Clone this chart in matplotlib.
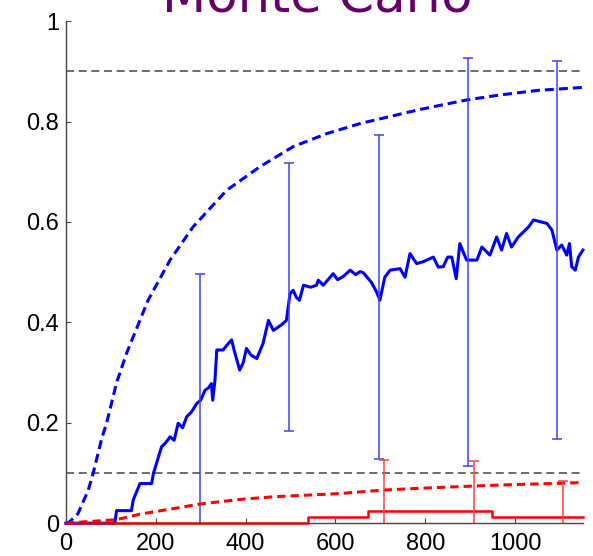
import numpy as np
import matplotlib
matplotlib.use("Agg")
import matplotlib.pyplot as plt

plt.rcParams['font.family'] = ['Liberation Sans', 'DejaVu Sans']
plt.rcParams['lines.scale_dashes'] = False

# noisy running estimate (solid blue)
est_x = [0, 105, 109, 113, 146, 150, 165, 191, 195, 213, 222, 232, 241, 250, 260, 269, 280, 291,
         300, 310, 318, 324, 327, 332, 336, 350, 359, 369, 376, 387, 395, 402, 412, 425, 439, 451,
         462, 480, 491, 499, 506, 513, 520, 529, 545, 558, 562, 573, 595, 605, 617, 633, 645, 655,
         662, 680, 692, 699, 710, 722, 744, 755, 766, 781, 796, 818, 829, 840, 850, 859, 869, 877,
         892, 915, 926, 944, 959, 970, 981, 992, 1007, 1030, 1041, 1071, 1082, 1093, 1104, 1115,
         1121, 1126, 1134, 1141, 1151]
est_y = [0, 0, 0.0, 0.025, 0.025, 0.046, 0.079, 0.079, 0.099, 0.152, 0.16, 0.172, 0.165, 0.199,
         0.19, 0.212, 0.222, 0.238, 0.245, 0.265, 0.27, 0.278, 0.245, 0.285, 0.345, 0.345, 0.355,
         0.365, 0.34, 0.305, 0.32, 0.348, 0.335, 0.328, 0.358, 0.404, 0.384, 0.395, 0.404, 0.457,
         0.464, 0.45, 0.444, 0.474, 0.47, 0.474, 0.484, 0.474, 0.497, 0.485, 0.491, 0.504, 0.495,
         0.501, 0.499, 0.48, 0.46, 0.444, 0.49, 0.504, 0.507, 0.49, 0.537, 0.517, 0.521, 0.530,
         0.51, 0.511, 0.53, 0.530, 0.487, 0.557, 0.524, 0.524, 0.550, 0.534, 0.570, 0.544, 0.577,
         0.550, 0.570, 0.590, 0.604, 0.597, 0.584, 0.544, 0.554, 0.534, 0.557, 0.511, 0.504,
         0.530, 0.544]

# expected curve (dashed blue)
exp_x = [0, 5, 27, 50, 61, 80, 91, 113, 135, 183, 232, 283, 358, 432, 506, 581, 655, 788, 892,
         967, 1050, 1151]
exp_y = [0, 0.0, 0.019, 0.066, 0.10, 0.169, 0.20, 0.28, 0.338, 0.444, 0.524, 0.590, 0.663, 0.710,
         0.750, 0.776, 0.796, 0.824, 0.843, 0.853, 0.862, 0.868]

# red estimate (steps) and red expected curve
red_x = [0, 540, 673, 948, 1151]
red_y = [0, 0.0126, 0.0246, 0.0126, 0.0126]
red_exp_x = [0, 16, 113, 165, 239, 298, 365, 395, 470, 540, 610, 707, 800, 907, 1000, 1080, 1151]
red_exp_y = [0, 0.001, 0.007, 0.018, 0.029, 0.038, 0.045, 0.048, 0.053, 0.056, 0.059, 0.066,
             0.070, 0.074, 0.077, 0.079, 0.081]

# error bars
bar_x = [298, 497, 697, 895, 1093]
bar_lo = [-0.01, 0.184, 0.128, 0.113, 0.167]
bar_hi = [0.497, 0.717, 0.773, 0.927, 0.920]
red_bar_x = [709, 908, 1106]
red_bar_mid = [0.025, 0.025, 0.013]
red_bar_err = [0.101, 0.099, 0.071]

levels = [0.1, 0.9]

fig = plt.figure(figsize=(5.93, 5.56), dpi=100)
ax = fig.add_axes([0.111, 0.059, 0.872, 0.903])

for lv in levels:
    ax.axhline(lv, color='#444444', lw=1.1, dashes=(5.8, 3.3))

ax.plot(exp_x, exp_y, color='#0000ff', lw=2.2, dashes=(6.5, 3.6), clip_on=False)
ax.plot(est_x, est_y, color='#0000ff', lw=2.2, clip_on=False)

lo = np.array(bar_lo)
hi = np.array(bar_hi)
ax.errorbar(bar_x, (lo + hi) / 2, yerr=(hi - lo) / 2, fmt='none', ecolor='#4040ff',
            elinewidth=1.1, capsize=3.6, capthick=1.1)

ax.plot(red_exp_x, red_exp_y, color='#ff0000', lw=2.2, dashes=(6, 3.6), clip_on=False)
ax.plot(red_x, red_y, color='#ff0000', lw=1.8, drawstyle='steps-post', clip_on=False)
ax.errorbar(red_bar_x, red_bar_mid, yerr=red_bar_err, fmt='none', ecolor='#ff4040',
            elinewidth=1.1, capsize=3.6, capthick=1.1)

ax.set_xlim(0, 1151)
ax.set_ylim(0, 1)
ax.set_xticks([0, 200, 400, 600, 800, 1000])
ax.set_yticks([0, 0.2, 0.4, 0.6, 0.8, 1])
ax.set_yticklabels(['0', '0.2', '0.4', '0.6', '0.8', '1'])
ax.tick_params(direction='in', length=3.6, width=0.8, color='#444444', labelsize=17, pad=5)
ax.tick_params(axis='x', pad=7)
for s in ['top', 'right']:
    ax.spines[s].set_visible(False)
for s in ['left', 'bottom']:
    ax.spines[s].set_color('#444444')
    ax.spines[s].set_linewidth(1.0)

fig.text(0.535, 0.979, 'Monte Carlo', color='#660066', fontsize=37, ha='center',
         va='baseline', family=['DejaVu Sans'])

fig.savefig('out.png', dpi=100)
